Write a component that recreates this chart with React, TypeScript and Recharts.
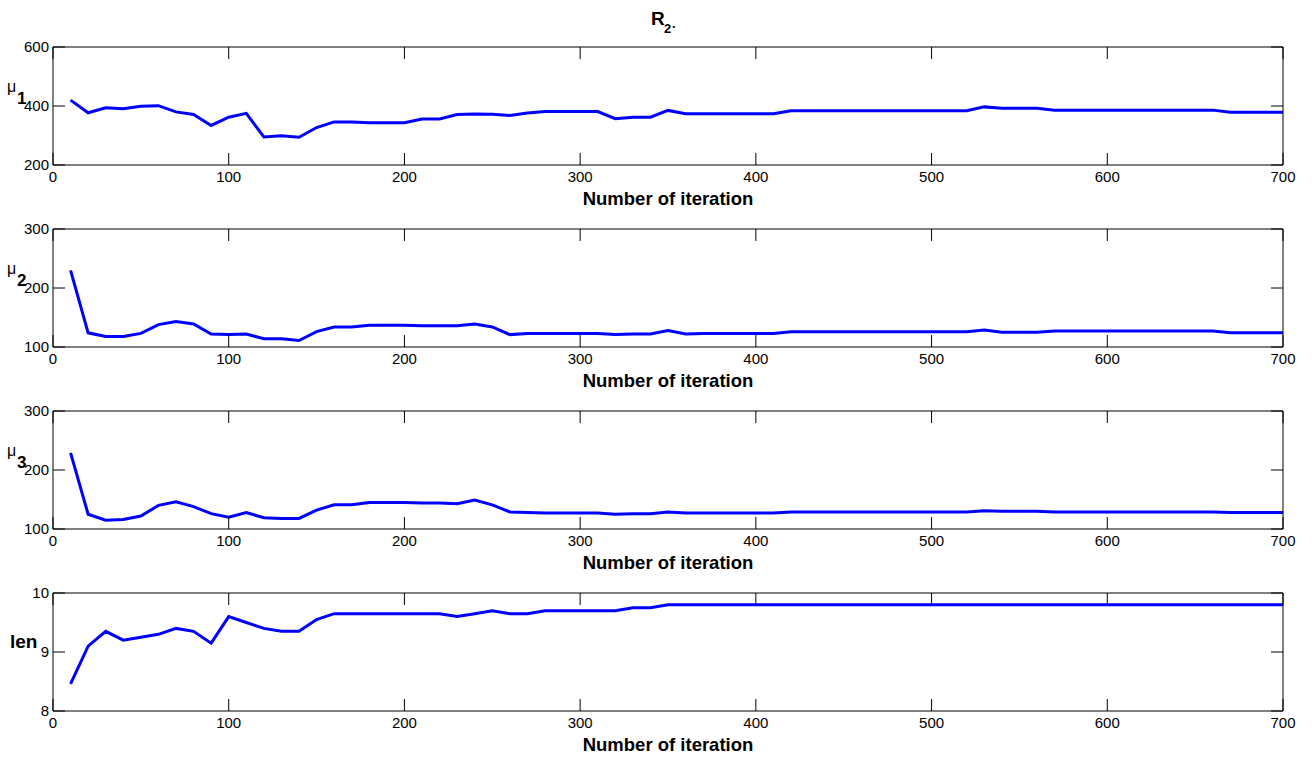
import { LineChart, Line, XAxis, YAxis } from "recharts";

const iterations = [
	10, 20, 30, 40, 50, 60, 70, 80, 90, 100, 110, 120, 130, 140, 150, 160, 170, 180, 190, 200,
	210, 220, 230, 240, 250, 260, 270, 280, 290, 300, 310, 320, 330, 340, 350, 360, 370, 380, 390, 400,
	410, 420, 430, 440, 450, 460, 470, 480, 490, 500, 510, 520, 530, 540, 550, 560, 570, 580, 590, 600,
	610, 620, 630, 640, 650, 660, 670, 680, 690, 700,
];

const mu1 = [
	420, 377, 394, 391, 399, 401, 380, 371, 334, 362, 375, 295, 299, 294, 327, 346, 346, 343, 343, 343,
	356, 356, 371, 373, 372, 368, 376, 381, 381, 381, 381, 357, 362, 362, 385, 374, 374, 374, 374, 374,
	374, 384, 384, 384, 384, 384, 384, 384, 384, 384, 384, 384, 397, 392, 392, 392, 386, 386, 386, 386,
	386, 386, 386, 386, 386, 386, 379, 379, 379, 379,
];

const mu2 = [
	230, 124, 118, 118, 123, 138, 143, 139, 122, 121, 122, 114, 114, 111, 126, 134, 134, 137, 137, 137,
	136, 136, 136, 139, 134, 121, 123, 123, 123, 123, 123, 121, 122, 122, 128, 122, 123, 123, 123, 123,
	123, 126, 126, 126, 126, 126, 126, 126, 126, 126, 126, 126, 129, 125, 125, 125, 127, 127, 127, 127,
	127, 127, 127, 127, 127, 127, 124, 124, 124, 124,
];

const mu3 = [
	229, 125, 115, 116, 122, 140, 146, 138, 126, 120, 128, 119, 118, 118, 132, 141, 141, 145, 145, 145,
	144, 144, 143, 149, 141, 129, 128, 127, 127, 127, 127, 125, 126, 126, 129, 127, 127, 127, 127, 127,
	127, 129, 129, 129, 129, 129, 129, 129, 129, 129, 129, 129, 131, 130, 130, 130, 129, 129, 129, 129,
	129, 129, 129, 129, 129, 129, 128, 128, 128, 128,
];

const len = [
	8.46, 9.1, 9.35, 9.2, 9.25, 9.3, 9.4, 9.35, 9.15, 9.6, 9.5, 9.4, 9.35, 9.35, 9.55, 9.65, 9.65, 9.65, 9.65, 9.65,
	9.65, 9.65, 9.6, 9.65, 9.7, 9.65, 9.65, 9.7, 9.7, 9.7, 9.7, 9.7, 9.75, 9.75, 9.8, 9.8, 9.8, 9.8, 9.8, 9.8,
	9.8, 9.8, 9.8, 9.8, 9.8, 9.8, 9.8, 9.8, 9.8, 9.8, 9.8, 9.8, 9.8, 9.8, 9.8, 9.8, 9.8, 9.8, 9.8, 9.8,
	9.8, 9.8, 9.8, 9.8, 9.8, 9.8, 9.8, 9.8, 9.8, 9.8,
];

const xTicks = [0, 100, 200, 300, 400, 500, 600, 700];

const panels = [
	{ key: "mu1", values: mu1, ticks: [200, 400, 600], name: "μ", sub: "1" },
	{ key: "mu2", values: mu2, ticks: [100, 200, 300], name: "μ", sub: "2" },
	{ key: "mu3", values: mu3, ticks: [100, 200, 300], name: "μ", sub: "3" },
	{ key: "len", values: len, ticks: [8, 9, 10], name: "len", sub: "" },
];

const FONT = "'Liberation Sans', Arial, Helvetica, sans-serif";
const TICK_LEN = 12;
const PLOT_TOP = 47;
const PLOT_H = 118;
const STEP = 182;

function BottomTick({ x, y, payload }: any) {
	return (
		<g>
			<line x1={x} y1={y} x2={x} y2={y - TICK_LEN} stroke="#000" strokeWidth={1} />
			<text x={x} y={y + 17} textAnchor="middle" fontSize={15} fontFamily={FONT} fill="#000">
				{payload.value}
			</text>
		</g>
	);
}

function TopTick({ x, y }: any) {
	return <line x1={x} y1={y} x2={x} y2={y + TICK_LEN} stroke="#000" strokeWidth={1} />;
}

function LeftTick({ x, y, payload }: any) {
	return (
		<g>
			<line x1={x} y1={y} x2={x + TICK_LEN} y2={y} stroke="#000" strokeWidth={1} />
			<text x={x - 4} y={y + 5} textAnchor="end" fontSize={15} fontFamily={FONT} fill="#000">
				{payload.value}
			</text>
		</g>
	);
}

function RightTick({ x, y }: any) {
	return <line x1={x} y1={y} x2={x - TICK_LEN} y2={y} stroke="#000" strokeWidth={1} />;
}

function Panel({ panel }: { panel: (typeof panels)[number] }) {
	const data = iterations.map((it, i) => ({ iter: it, value: panel.values[i] }));
	const domain = [panel.ticks[0], panel.ticks[2]];
	const yLabel = (props: any) => {
		const vb = props.viewBox;
		const top = vb.y;
		if (panel.sub === "") {
			return (
				<text x={10} y={top + 55} fontSize={19} fontWeight="bold" fontFamily={FONT} fill="#000">
					{panel.name}
				</text>
			);
		}
		return (
			<text fontFamily={FONT} fill="#000">
				<tspan x={7} y={top + 45} fontSize={16}>
					{panel.name}
				</tspan>
				<tspan x={17} y={top + 57} fontSize={17} fontWeight="bold">
					{panel.sub}
				</tspan>
			</text>
		);
	};
	const xLabel = (props: any) => {
		const vb = props.viewBox;
		return (
			<text
				x={vb.x + vb.width / 2}
				y={vb.y + 40}
				textAnchor="middle"
				fontSize={18.5}
				fontWeight="bold"
				fontFamily={FONT}
				fill="#000"
			>
				Number of iteration
			</text>
		);
	};
	return (
		<LineChart
			width={1312}
			height={PLOT_TOP + PLOT_H + 48}
			data={data}
			margin={{ top: PLOT_TOP - 1, right: 28, bottom: 0, left: 0 }}
		>
			<XAxis
				dataKey="iter"
				type="number"
				domain={[0, 700]}
				ticks={xTicks}
				interval={0}
				tickSize={0}
				tickMargin={0}
				tickLine={false}
				height={48}
				axisLine={{ stroke: "#000", strokeWidth: 1 }}
				tick={<BottomTick />}
				label={{ content: xLabel }}
			/>
			<XAxis
				xAxisId="top"
				orientation="top"
				dataKey="iter"
				type="number"
				domain={[0, 700]}
				ticks={xTicks}
				interval={0}
				tickSize={0}
				tickMargin={0}
				tickLine={false}
				height={1}
				axisLine={{ stroke: "#000", strokeWidth: 1 }}
				tick={<TopTick />}
			/>
			<YAxis
				type="number"
				domain={domain}
				ticks={panel.ticks}
				interval={0}
				width={53}
				tickSize={0}
				tickMargin={0}
				tickLine={false}
				axisLine={{ stroke: "#000", strokeWidth: 1 }}
				tick={<LeftTick />}
				label={{ content: yLabel }}
			/>
			<YAxis
				yAxisId="right"
				orientation="right"
				type="number"
				domain={domain}
				ticks={panel.ticks}
				interval={0}
				width={1}
				tickSize={0}
				tickMargin={0}
				tickLine={false}
				axisLine={{ stroke: "#000", strokeWidth: 1 }}
				tick={<RightTick />}
			/>
			<Line
				type="linear"
				dataKey="value"
				stroke="#0000ff"
				strokeWidth={3}
				dot={false}
				activeDot={false}
				isAnimationActive={false}
			/>
			<Line
				xAxisId="top"
				yAxisId="right"
				type="linear"
				dataKey="value"
				stroke="none"
				strokeWidth={0}
				dot={false}
				activeDot={false}
				legendType="none"
				isAnimationActive={false}
			/>
		</LineChart>
	);
}

export default function App() {
	return (
		<div style={{ position: "absolute", left: 0, top: 0, width: 1312, height: 759, background: "#fff" }}>
			<svg width={1312} height={40} style={{ position: "absolute", left: 0, top: 0 }}>
				<text fontFamily={FONT} fill="#000" fontWeight="bold">
					<tspan x={651} y={25} fontSize={19}>
						R
					</tspan>
					<tspan x={664} y={33} fontSize={13}>
						2
					</tspan>
					<tspan x={672} y={28} fontSize={13}>
						.
					</tspan>
				</text>
			</svg>
			{panels.map((p, i) => (
				<div key={p.key} style={{ position: "absolute", left: 0, top: STEP * i }}>
					<Panel panel={p} />
				</div>
			))}
		</div>
	);
}
